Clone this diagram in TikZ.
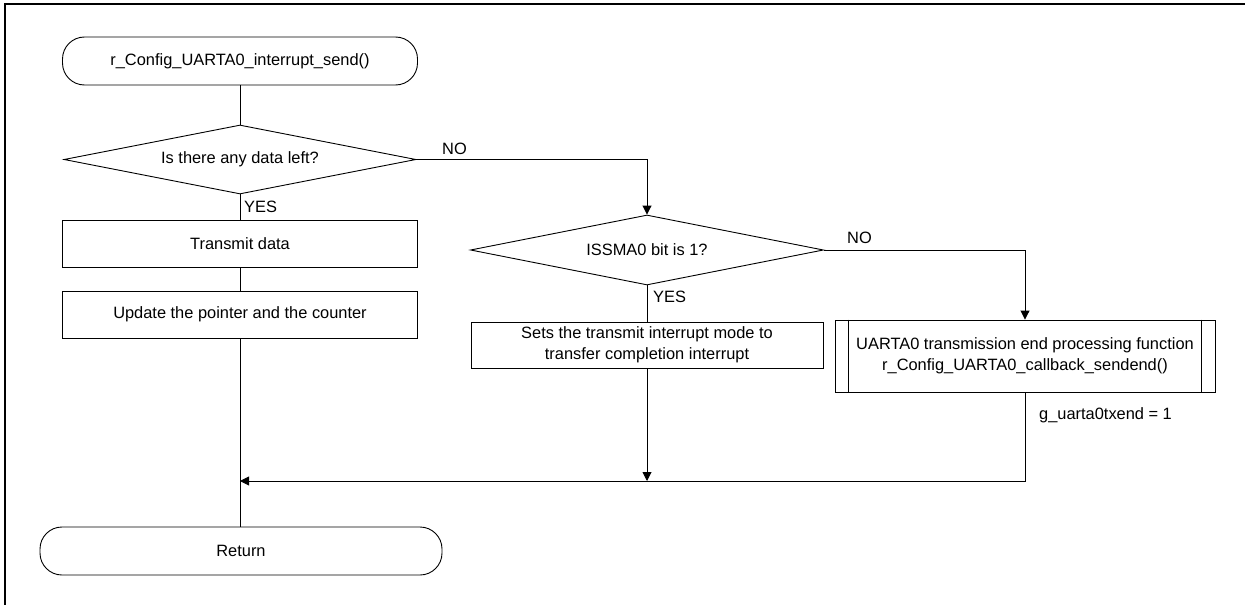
\documentclass[tikz,border=0pt]{standalone}
\usepackage{fontspec}
\setmainfont{Liberation Sans}
\usetikzlibrary{shapes.geometric,arrows.meta}
\begin{document}
\begin{tikzpicture}[x=1pt,y=-1pt,
  every node/.style={font=\fontsize{16.4}{19.5}\selectfont},
  ln/.style={line width=0.9pt,draw=black},
  arr/.style={ln,-{Triangle[width=9pt,length=9pt]}},
  term/.style={ln,rectangle,rounded corners=22pt,inner sep=0pt},
  proc/.style={ln,rectangle,inner sep=0pt,align=center},
  dec/.style={ln,diamond,inner sep=0pt,aspect=5.1},
  lbl/.style={anchor=west,inner sep=0pt}]
\useasboundingbox (0,0) rectangle (1245,605);
\draw[line width=2.5pt] (5,605) -- (5,4) -- (1245,4);

\node[term,minimum width=355pt,minimum height=48pt] (start) at (240,61) {r\_Config\_UARTA0\_interrupt\_send()};
\node[dec,minimum width=352pt,minimum height=69pt] (d1) at (240,159.5) {Is there any data left?};
\node[proc,minimum width=355pt,minimum height=47pt] (b1) at (240,243.5) {Transmit data};
\node[proc,minimum width=355pt,minimum height=47pt] (b2) at (240,314.5) {Update the pointer and the counter};
\node[term,minimum width=402pt,minimum height=48pt] (ret) at (241,551) {Return};

\node[dec,minimum width=353pt,minimum height=70pt] (d2) at (647,250) {ISSMA0 bit is 1?};
\node[proc,minimum width=352pt,minimum height=46pt,font=\fontsize{16.4}{21}\selectfont] (b3) at (647,345) {Sets the transmit interrupt mode to\\transfer completion interrupt};
\node[proc,minimum width=380pt,minimum height=72pt,font=\fontsize{16.4}{21}\selectfont] (sub) at (1025,356) {UARTA0 transmission end processing function\\r\_Config\_UARTA0\_callback\_sendend()};
\draw[ln] ([xshift=14pt]sub.north west) -- ([xshift=14pt]sub.south west);
\draw[ln] ([xshift=-14pt]sub.north east) -- ([xshift=-14pt]sub.south east);

\coordinate (m1) at (240,481);
\coordinate (m2) at (647,481);

\draw[ln] (start) -- (d1);
\draw[ln] (d1) -- (b1);
\draw[ln] (b1) -- (b2);
\draw[ln] (b2.south) -- (b2.south |- ret.north);
\draw[arr] (d1.east) -| (d2.north);
\draw[ln] (d2) -- (b3);
\draw[arr] (b3) -- (m2);
\draw[arr] (d2.east) -| (sub.north);
\draw[arr] (sub.south) |- (m1);

\node[lbl] (no1) at (442,149) {NO};
\node[lbl] (yes1) at (244,207) {YES};
\node[lbl] (no2) at (847,238) {NO};
\node[lbl] (yes2) at (653,297) {YES};
\node[lbl] (gv) at (1039,415) {g\_uarta0txend = 1};
\end{tikzpicture}
\end{document}
